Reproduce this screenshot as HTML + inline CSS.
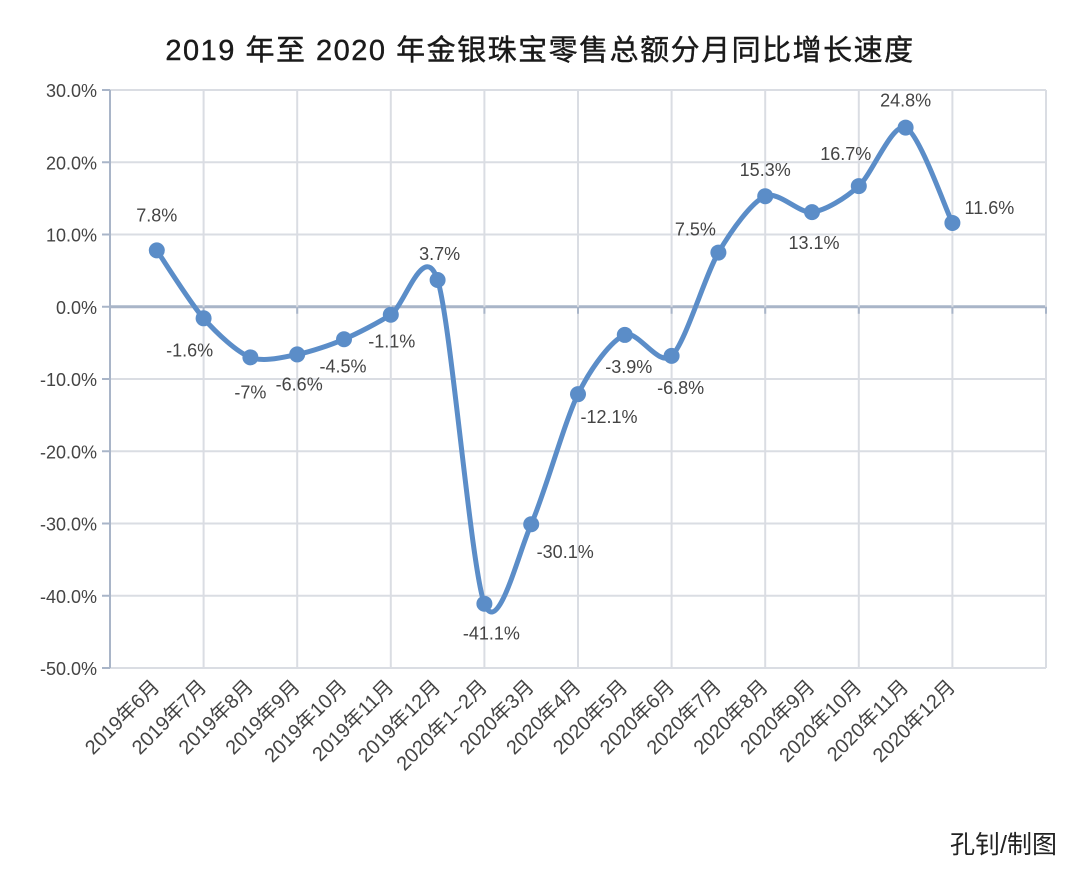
<!DOCTYPE html>
<html><head><meta charset="utf-8"><style>
html,body{margin:0;padding:0;background:#fff;}
svg{display:block;font-family:"Liberation Sans","Noto Sans CJK SC",sans-serif;}
</style></head><body>
<svg id="chart" width="1080" height="869" viewBox="0 0 1080 869">
<text x="540" y="60" text-anchor="middle" font-size="29" letter-spacing="1.5" fill="#1a1a1a" stroke="#1a1a1a" stroke-width="0.4" font-family="'Liberation Sans','Noto Sans CJK SC',sans-serif">2019 年至 2020 年金银珠宝零售总额分月同比增长速度</text>
<text x="1057" y="853" text-anchor="end" font-size="25" fill="#222">孔钊/制图</text>
<g id="grid"></g>
<g id="yaxis"></g>
<g id="xaxis"></g>
<g id="series"></g>
</svg>
<script>
const categories = ["2019年6月","2019年7月","2019年8月","2019年9月","2019年10月","2019年11月","2019年12月","2020年1~2月","2020年3月","2020年4月","2020年5月","2020年6月","2020年7月","2020年8月","2020年9月","2020年10月","2020年11月","2020年12月"];
const values = [7.8,-1.6,-7,-6.6,-4.5,-1.1,3.7,-41.1,-30.1,-12.1,-3.9,-6.8,7.5,15.3,13.1,16.7,24.8,11.6];
const valueLabels = ["7.8%","-1.6%","-7%","-6.6%","-4.5%","-1.1%","3.7%","-41.1%","-30.1%","-12.1%","-3.9%","-6.8%","7.5%","15.3%","13.1%","16.7%","24.8%","11.6%"];
const yTicks = [30,20,10,0,-10,-20,-30,-40,-50];
const yTickLabels = ["30.0%","20.0%","10.0%","0.0%","-10.0%","-20.0%","-30.0%","-40.0%","-50.0%"];

const NS="http://www.w3.org/2000/svg";
const L=110,R=1046,T=90,B=668,yMax=30,yMin=-50;
const step=(R-L)/20;
function xs(i){return L+step*(i+1);}
function y(v){return T+(yMax-v)/(yMax-yMin)*(B-T);}
function mk(tag,attrs,parent){const e=document.createElementNS(NS,tag);for(const k in attrs)e.setAttribute(k,attrs[k]);parent.appendChild(e);return e;}
const grid=document.getElementById('grid'),ya=document.getElementById('yaxis'),xa=document.getElementById('xaxis'),ser=document.getElementById('series');
yTicks.forEach((t,k)=>{
  const g=mk('line',{x1:L,x2:R,y1:y(t),y2:y(t),stroke:t===0?'#a9b5c8':'#dadde3','stroke-width':t===0?3:2},grid);
  
  
  const tk=mk('line',{x1:L-8,x2:L,y1:y(t),y2:y(t),stroke:'#a9b5c8','stroke-width':2},ya);
  
  
  const tx=mk('text',{x:97,y:y(t)+7,'text-anchor':'end','font-size':18,fill:'#444'},ya);
  tx.textContent=yTickLabels[k];
  
  
});
for(let k=0;k<=10;k++){
  const gx=L+2*step*k;
  const v=mk('line',{x1:gx,x2:gx,y1:T,y2:B,stroke:k===0?'#a9b5c8':'#dadde3','stroke-width':2},grid);
  
  
  if(k>0){const tk=mk('line',{x1:gx,x2:gx,y1:y(0),y2:y(0)+7,stroke:'#a9b5c8','stroke-width':2},grid);
  
  }
}
categories.forEach((c,i)=>{
  const px=xs(i)+4,py=688;
  const t=mk('text',{x:px,y:py,'text-anchor':'end','font-size':20,fill:'#444',transform:`rotate(-45 ${px} ${py})`},xa);
  t.textContent=c;
  
  
});
const pts=values.map((v,i)=>[xs(i),y(v)]);
let d=`M${pts[0][0]},${pts[0][1]}`;
for(let i=0;i<pts.length-1;i++){
  const p0=pts[i-1]||pts[i],p1=pts[i],p2=pts[i+1],p3=pts[i+2]||p2,s=7;
  d+=` C${p1[0]+(p2[0]-p0[0])/s},${p1[1]+(p2[1]-p0[1])/s} ${p2[0]-(p3[0]-p1[0])/s},${p2[1]-(p3[1]-p1[1])/s} ${p2[0]},${p2[1]}`;
}
const line=mk('path',{d:d,fill:'none',stroke:'#5b8dc8','stroke-width':5,'stroke-linejoin':'round'},ser);


const lblOff=[[0,-35],[-14,32],[0,35],[2,30],[-1,27],[1,27],[2,-26],[7,30],[34,28],[31,23],[4,32],[9,32],[-23,-23],[0,-26],[2,31],[-13,-32],[0,-27],[37,-15]];
pts.forEach((p,i)=>{
  const c=mk('circle',{cx:p[0],cy:p[1],r:8,fill:'#5b8dc8'},ser);
  
  
  const t=mk('text',{x:p[0]+lblOff[i][0],y:p[1]+lblOff[i][1]+6,'text-anchor':'middle','font-size':18,fill:'#444'},ser);
  t.textContent=valueLabels[i];
  
  
});
</script>
</body></html>
